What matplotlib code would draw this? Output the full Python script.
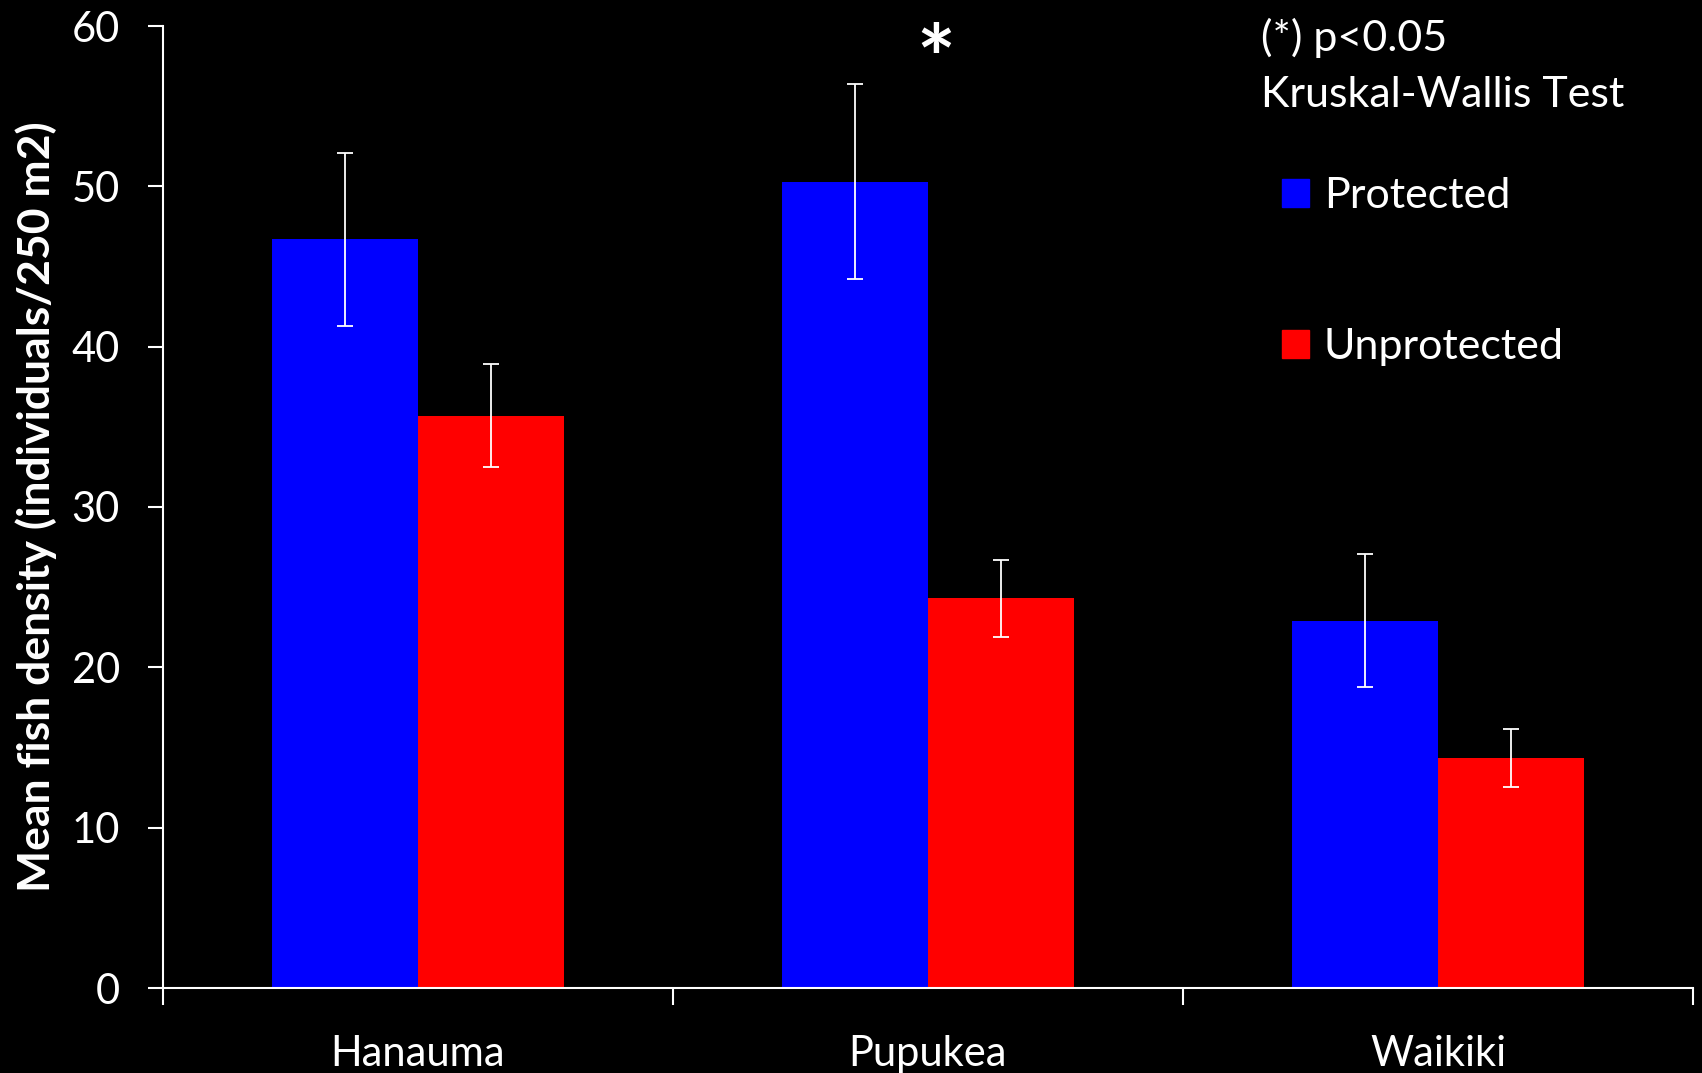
import numpy as np
import matplotlib.pyplot as plt
from matplotlib.patches import Patch

plt.rcParams["font.family"] = ["Lato", "DejaVu Sans"]

sites = ["Hanauma", "Pupukea", "Waikiki"]
protected = [46.7, 50.3, 22.9]
protected_err = [5.4, 6.1, 4.15]
unprotected = [35.7, 24.3, 14.35]
unprotected_err = [3.2, 2.4, 1.8]

fig = plt.figure(figsize=(17.02, 10.73), dpi=100, facecolor="black")
ax = fig.add_axes([163 / 1702, 1 - 988 / 1073, 1530 / 1702, 962 / 1073])
ax.set_facecolor("black")

x = np.arange(len(sites))
w = 1 / 3.5
err_kw = dict(ecolor="white", elinewidth=1.3, capsize=6, capthick=1.3)

ax.bar(x - w / 2, protected, w, yerr=protected_err, color="#0000ff",
       error_kw=err_kw, label="Protected")
ax.bar(x + w / 2, unprotected, w, yerr=unprotected_err, color="#ff0000",
       error_kw=err_kw, label="Unprotected")

ax.set_xlim(-0.5, len(sites) - 0.5)
ax.set_ylim(0, 60)
ax.set_yticks(range(0, 61, 10))

# category labels in the middle, tick marks on the group boundaries
ax.set_xticks(x)
ax.set_xticklabels(sites)
ax.tick_params(axis="x", which="major", length=0, pad=34, labelsize=30, colors="white")
ax.set_xticks(np.arange(-0.5, len(sites)), minor=True)
ax.tick_params(axis="x", which="minor", length=12, width=1.5, color="white", direction="out")
ax.tick_params(axis="y", length=11, width=1.5, color="white", labelcolor="white",
               labelsize=30, pad=20)

for s in ["top", "right"]:
    ax.spines[s].set_visible(False)
for s in ["left", "bottom"]:
    ax.spines[s].set_color("white")
    ax.spines[s].set_linewidth(1.5)

fig.text(36 / 1702, 1 - 507 / 1073, "Mean fish density (individuals/250 m2)",
         rotation=90, ha="center", va="center", color="white",
         fontsize=32, fontweight="bold")

# significance marker
ax.text(1.015, 57.5, "*", ha="center", va="center", color="white",
        fontsize=66, fontweight="bold")

fig.text(1261 / 1702, 1 - 38 / 1073, "(*) p<0.05", ha="left", va="center",
         color="white", fontsize=31)
fig.text(1261 / 1702, 1 - 95 / 1073, "Kruskal-Wallis Test", ha="left", va="center",
         color="white", fontsize=31)

handles = [Patch(color="#0000ff", label="Protected"),
           Patch(color="#ff0000", label="Unprotected")]
leg = fig.legend(handles=handles, loc="upper left",
                 bbox_to_anchor=(1282 / 1702, 1 - 177 / 1073),
                 frameon=False, fontsize=31, handlelength=0.62, handleheight=0.62,
                 handletextpad=0.35, labelspacing=2.62, borderpad=0, borderaxespad=0)
for t in leg.get_texts():
    t.set_color("white")

fig.savefig("out.png", dpi=100, facecolor="black")
